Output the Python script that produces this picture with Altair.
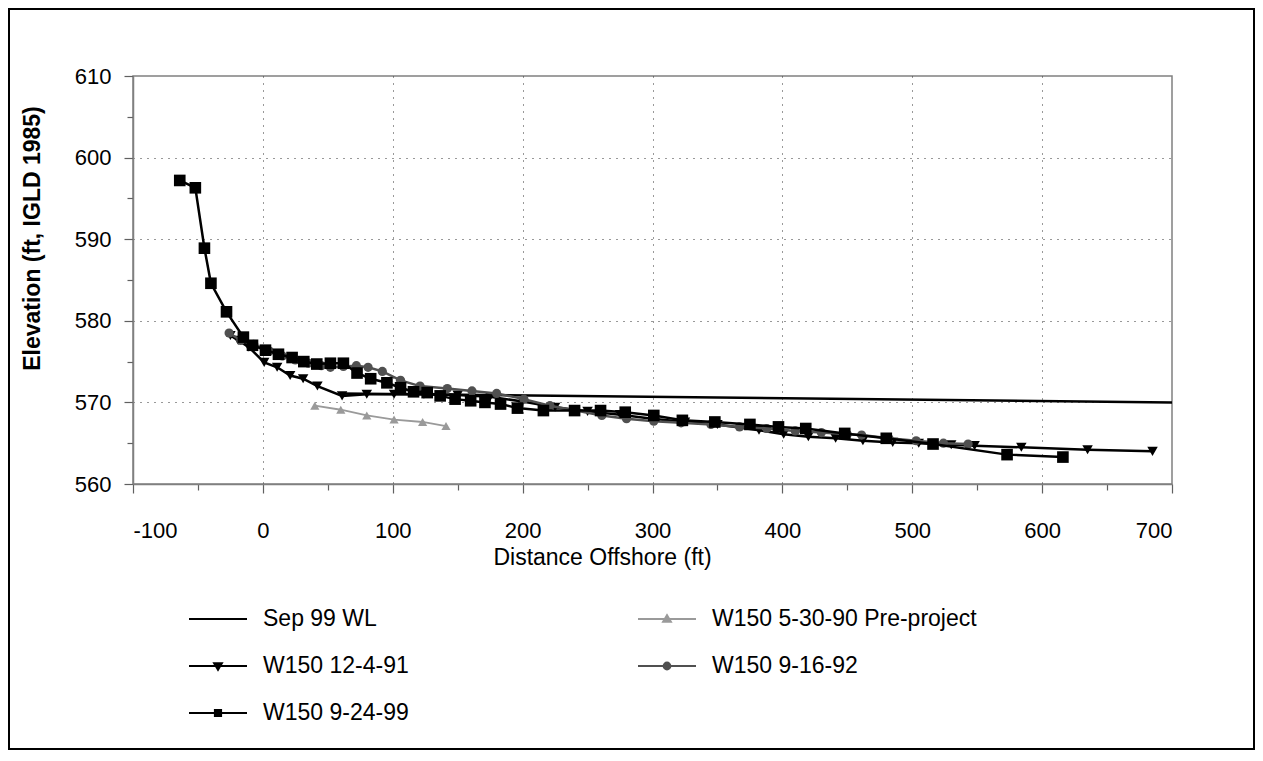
import altair as alt
import pandas as pd

# ---------------- data ----------------
series_names = ["Sep 99 WL", "W150 5-30-90 Pre-project", "W150 12-4-91",
                "W150 9-16-92", "W150 9-24-99"]

wl_x = [60, 700]
wl_y = [571.1, 570.0]

pre_x = [40, 60, 80, 101, 123, 141]
pre_y = [569.6, 569.1, 568.4, 567.9, 567.6, 567.1]

s91_x = [-25, -19, -11, 1, 11, 21, 31, 42, 61, 80, 101, 124, 150, 175, 200, 225,
         250, 275, 300, 325, 350, 382, 401, 420, 441, 462, 485, 505, 530, 548,
         584, 635, 685]
s91_y = [578.2, 577.6, 576.8, 574.9, 574.3, 573.3, 572.9, 572.0, 570.8, 571.0,
         571.0, 571.0, 570.9, 570.7, 570.1, 569.4, 568.9, 568.5, 568.0, 567.6,
         567.3, 566.6, 566.1, 565.8, 565.6, 565.3, 565.1, 565.0, 564.8, 564.7,
         564.5, 564.2, 564.0]

s92_x = [-26, -17, -7, 5, 15, 25, 35, 45, 52, 62, 72, 81, 92, 106, 121, 142, 161,
         180, 201, 221, 241, 261, 280, 301, 322, 345, 367, 388, 410, 430, 450,
         461, 482, 503, 524, 543]
s92_y = [578.5, 577.6, 577.1, 576.3, 575.7, 575.2, 574.8, 574.5, 574.3, 574.4,
         574.5, 574.3, 573.8, 572.7, 572.0, 571.7, 571.4, 571.1, 570.4, 569.6,
         569.0, 568.4, 568.0, 567.7, 567.5, 567.3, 567.0, 566.8, 566.5, 566.3,
         566.1, 566.0, 565.6, 565.3, 565.0, 564.9]

s99_x = [-64, -52, -45, -40, -28, -15, -8, 2, 12, 22.5, 31.5, 41.5, 52, 62, 72.5,
         83, 95.5, 106, 116, 126.5, 136.5, 148, 160, 171, 183, 196, 216, 240, 260,
         279, 301, 323, 348, 375, 397, 418, 448, 480, 516, 573, 616]
s99_y = [597.2, 596.3, 588.9, 584.6, 581.1, 578.0, 577.0, 576.4, 575.9, 575.5,
         575.0, 574.7, 574.8, 574.8, 573.6, 572.9, 572.4, 571.8, 571.3, 571.2,
         570.8, 570.4, 570.2, 570.0, 569.8, 569.3, 569.0, 569.0, 569.0, 568.8,
         568.4, 567.8, 567.6, 567.3, 567.0, 566.8, 566.2, 565.6, 564.9, 563.6,
         563.3]

x_ticks = list(range(-100, 701, 50))
y_ticks = list(range(560, 611, 5))

series_xy = [[wl_x, wl_y], [pre_x, pre_y], [s91_x, s91_y], [s92_x, s92_y], [s99_x, s99_y]]
colors = ["#000000", "#9a9a9a", "#000000", "#505050", "#000000"]
plot_shapes = [None, "triangle-up", "triangle-down", "circle", "square"]
marker_sizes = [0, 85, 110, 85, 135]

# legend symbols: a short line with the marker in its middle
legend_paths = [
    "M-1,0H1",
    "M-1,0H1M-0.14,0.1H0.14L0,-0.14Z",
    "M-1,0H1M-0.14,-0.1H0.14L0,0.14Z",
    "M-1,0H1M0.12,0A0.12,0.12 0 1,1 -0.12,0A0.12,0.12 0 1,1 0.12,0Z",
    "M-1,0H1M-0.11,-0.11H0.11V0.11H-0.11Z",
]
legend_order = [0, 2, 4, 1, 3]  # legend fills column by column

rows = []
for name, (xs, ys) in zip(series_names, series_xy):
    for i, (xv, yv) in enumerate(zip(xs, ys)):
        rows.append({"series": name, "x": xv, "y": yv, "i": i})
df = pd.DataFrame(rows)

FONT = "Liberation Sans"

x_enc = alt.X(
    "x:Q",
    scale=alt.Scale(domain=[-100, 700], nice=False, zero=False),
    axis=alt.Axis(
        values=x_ticks,
        title="Distance Offshore (ft)",
        labelExpr="datum.value % 100 === 0 ? '' + datum.value : ''",
        tickSize={"condition": {"test": "datum.value % 100 === 0", "value": 9}, "value": 6},
        gridOpacity={"condition": {"test": "datum.value % 100 === 0 && datum.value > -100 && datum.value < 700", "value": 1}, "value": 0},
        labelPadding=27,
        titleX=469,
        titleY=73,
        titleAlign="center",
        titleBaseline="middle",
    ),
)
y_enc = alt.Y(
    "y:Q",
    scale=alt.Scale(domain=[560, 610], nice=False, zero=False),
    axis=alt.Axis(
        values=y_ticks,
        title="Elevation (ft, IGLD 1985)",
        labelExpr="datum.value % 10 === 0 ? '' + datum.value : ''",
        tickSize={"condition": {"test": "datum.value % 10 === 0", "value": 9}, "value": 6},
        gridOpacity={"condition": {"test": "datum.value % 10 === 0 && datum.value > 560 && datum.value < 610", "value": 1}, "value": 0},
        labelPadding=13,
        titleFontWeight="bold",
        titleX=-101,
        titleY=162,
        titleAlign="center",
        titleBaseline="middle",
        titleAngle=270,
    ),
)

base = alt.Chart(df)
layers = []
for k, name in enumerate(series_names):
    sub = base.transform_filter(alt.datum.series == name)
    layers.append(
        sub.mark_line(color=colors[k], strokeWidth=2.5 if k != 1 else 1.8).encode(
            x=x_enc, y=y_enc, order="i:Q")
    )
    if plot_shapes[k]:
        layers.append(
            sub.mark_point(filled=True, color=colors[k], shape=plot_shapes[k],
                           size=marker_sizes[k], opacity=1).encode(x=x_enc, y=y_enc)
        )

leg_names = [series_names[i] for i in legend_order]
leg_colors = [colors[i] for i in legend_order]
leg_paths = [legend_paths[i] for i in legend_order]

leg = alt.Legend(
    orient="none", legendX=55, legendY=513, columns=2, columnPadding=225,
    rowPadding=5, symbolSize=3364, symbolStrokeWidth=1.8, symbolOpacity=1,
    labelFontSize=23, labelFont=FONT, labelOffset=15, title=None, labelLimit=400,
    labelColor="black",
)
legend_layer = base.transform_filter("false").mark_point(filled=True, opacity=1).encode(
    x=x_enc, y=y_enc,
    fill=alt.Fill("series:N", scale=alt.Scale(domain=leg_names, range=leg_colors), legend=leg),
    stroke=alt.Stroke("series:N", scale=alt.Scale(domain=leg_names, range=leg_colors), legend=leg),
    shape=alt.Shape("series:N", scale=alt.Scale(domain=leg_names, range=leg_paths), legend=leg),
)
layers.append(legend_layer)

frame = alt.Chart(pd.DataFrame({"a": [0]})).mark_rect(
    fill=None, stroke="black", strokeWidth=2
).encode(x=alt.value(-124), x2=alt.value(1121), y=alt.value(-67), y2=alt.value(673))
layers.append(frame)

chart = alt.layer(*layers).properties(
    width=1039, height=408,
    padding={"left": 125, "top": 68, "right": 83, "bottom": 269},
    autosize=alt.AutoSizeParams(type="none"),
    background="white",
).configure_axis(
    labelFont=FONT, titleFont=FONT, labelFontSize=22, titleFontSize=23,
    labelColor="black", titleColor="black", titleFontWeight="normal",
    domainColor="#808080", domainWidth=1.5, tickColor="#606060", tickWidth=1.2,
    gridColor="#333333", gridDash=[1, 6], gridWidth=1,
).configure_view(stroke="#808080", strokeWidth=1.5)

chart.save("out.html", embed_options={"renderer": "svg", "actions": False})
